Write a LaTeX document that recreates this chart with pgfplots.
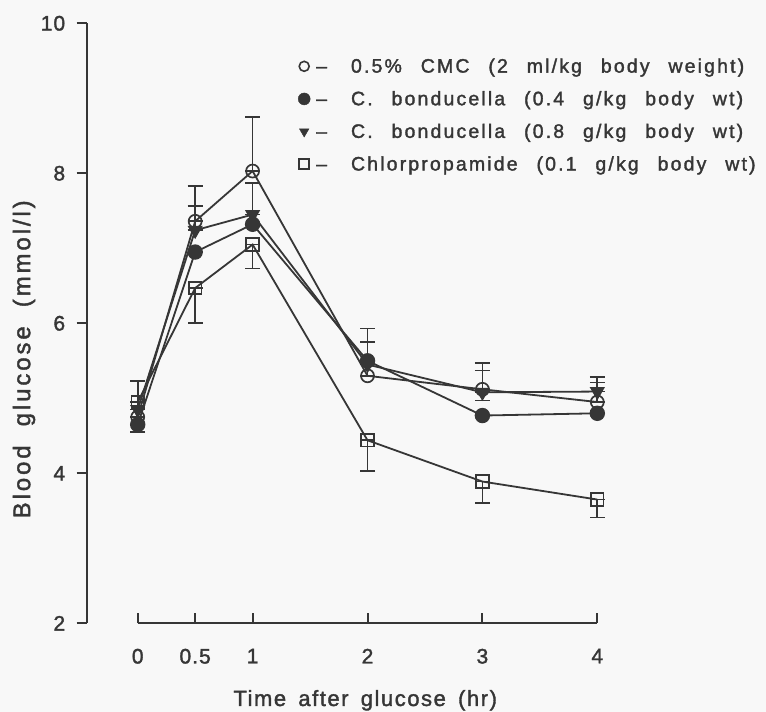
\documentclass[border=0pt]{standalone}
\usepackage{pgfplots}
\pgfplotsset{compat=1.18}
\usepackage{pgfplotstable}
\usepackage{fontspec}
\setmainfont{Liberation Sans}
\newfontfamily\tickf[LetterSpace=5,FakeBold=1.6]{Liberation Sans}
\newfontfamily\legf[LetterSpace=11,WordSpace=2.5,FakeBold=1.6]{Liberation Sans}
\newfontfamily\xlabf[LetterSpace=7,WordSpace=1.6,FakeBold=1.6]{Liberation Sans}
\newfontfamily\ylabf[LetterSpace=12,WordSpace=2,FakeBold=1.6]{Liberation Sans}
\definecolor{ink}{HTML}{363636}
\definecolor{bg}{HTML}{F8F8F8}

% CMC control (open circles)
\pgfplotstableread{
x   y     ep    em
0   4.75  0.00  0.00
0.5 7.36  0.47  0.00
1   8.03  0.72  0.00
2   5.30  0.63  0.00
3   5.12  0.35  0.15
4   4.95  0.33  0.00
}\cmc
% C. bonducella 0.4 g/kg (filled circles)
\pgfplotstableread{
x   y     ep    em
0   4.65  0.00  0.10
0.5 6.95  0.00  0.00
1   7.32  0.00  0.00
2   5.50  0.00  0.00
3   4.77  0.00  0.00
4   4.80  0.00  0.00
}\lowdose
% C. bonducella 0.8 g/kg (filled down triangles)
\pgfplotstableread{
x   y     ep    em
0   4.85  0.38  0.00
0.5 7.24  0.32  0.00
1   7.45  0.42  0.00
2   5.45  0.30  0.00
3   5.08  0.29  0.00
4   5.09  0.12  0.00
}\highdose
% Chlorpropamide (open squares)
\pgfplotstableread{
x   y     ep    em
0   4.95  0.00  0.00
0.5 6.47  0.00  0.47
1   7.05  0.00  0.32
2   4.44  0.00  0.41
3   3.89  0.00  0.29
4   3.65  0.00  0.24
}\chlor

\begin{document}
\begin{tikzpicture}
\fill[bg] (-86.7pt,-88.7pt) rectangle (679.3pt,623.3pt);
\useasboundingbox (-86.7pt,-88.7pt) rectangle (679.3pt,623.3pt);
\begin{axis}[
  at={(0pt,0pt)}, anchor=south west,
  scale only axis, width=510.6pt, height=600pt,
  xmin=-0.444, xmax=4, ymin=2, ymax=10,
  axis x line*=bottom, axis y line*=left,
  x axis line style={draw=none},
  y axis line style={ink, line width=2pt},
  xtick={0,0.5,1,2,3,4}, xticklabels={0,0.5,1,2,3,4},
  ytick={2,4,6,8,10},
  xtick align=inside, ytick align=outside,
  major tick length=10pt,
  tick style={ink, line width=2pt},
  ticklabel style={font=\tickf\fontsize{21}{25}\selectfont, text=ink},
  xticklabel style={yshift=-22pt},
  yticklabel style={xshift=-8pt},
  /pgf/number format/assume math mode=true,
  clip=false,
  xlabel={Time after glucose (hr)},
  every axis x label/.style={at={(axis cs:1.98,2)}, anchor=base, yshift=-82.7pt,
     font=\xlabf\fontsize{22}{26}\selectfont, text=ink},
  ylabel={Blood glucose (mmol/l)},
  every axis y label/.style={at={(axis cs:-0.99,5.52)}, rotate=90, anchor=center,
     font=\ylabf\fontsize{24}{28}\selectfont, text=ink},
  legend image code/.code={\draw[#1] plot coordinates {(0pt,0pt)};},
  legend style={at={(axis cs:1.395,9.56)}, anchor=north west, draw=none, fill=none,
     inner sep=0pt, row sep=13pt, font=\legf\fontsize{19.5}{23}\selectfont, text=ink,
     cells={anchor=west}, /tikz/every even column/.append style={column sep=3pt}},
  error bars/y dir=both, error bars/y explicit,
  error bars/error bar style={ink, line width=1.7pt},
  error bars/error mark options={rotate=90, mark size=7.5pt, line width=1.7pt, ink},
]
\draw[ink, line width=2pt] (axis cs:0,2) -- (axis cs:4,2);

\addplot[forget plot, ink, line width=1.8pt, mark=square, mark size=6.3pt, mark options={solid, line width=1.7pt}]
  table[x=x, y=y, y error plus=ep, y error minus=em] {\chlor};
\addplot[forget plot, ink, line width=1.8pt, mark=*, mark size=6.8pt, mark options={solid, fill=ink}]
  table[x=x, y=y, y error plus=ep, y error minus=em] {\lowdose};
\addplot[forget plot, ink, line width=1.8pt, mark=triangle*, mark size=7pt, mark options={solid, fill=ink, rotate=180}]
  table[x=x, y=y, y error plus=ep, y error minus=em] {\highdose};
\addplot[forget plot, ink, line width=1.8pt, mark=o, mark size=6.5pt, mark options={solid, line width=1.7pt}]
  table[x=x, y=y, y error plus=ep, y error minus=em] {\cmc};

\addlegendimage{only marks, ink, mark=o, mark size=5pt, mark options={line width=1.6pt}}
\addlegendentry{\hspace{4pt}–\hspace{24pt}0.5\% CMC (2 ml/kg body weight)}
\addlegendimage{only marks, ink, mark=*, mark size=6pt, mark options={fill=ink}}
\addlegendentry{\hspace{4pt}–\hspace{24pt}C. bonducella (0.4 g/kg body wt)}
\addlegendimage{only marks, ink, mark=triangle*, mark size=5.5pt, mark options={fill=ink, rotate=180}}
\addlegendentry{\hspace{4pt}–\hspace{24pt}C. bonducella (0.8 g/kg body wt)}
\addlegendimage{only marks, ink, mark=square, mark size=5pt, mark options={line width=1.6pt}}
\addlegendentry{\hspace{4pt}–\hspace{24pt}Chlorpropamide (0.1 g/kg body wt)}
\end{axis}
\end{tikzpicture}
\end{document}
